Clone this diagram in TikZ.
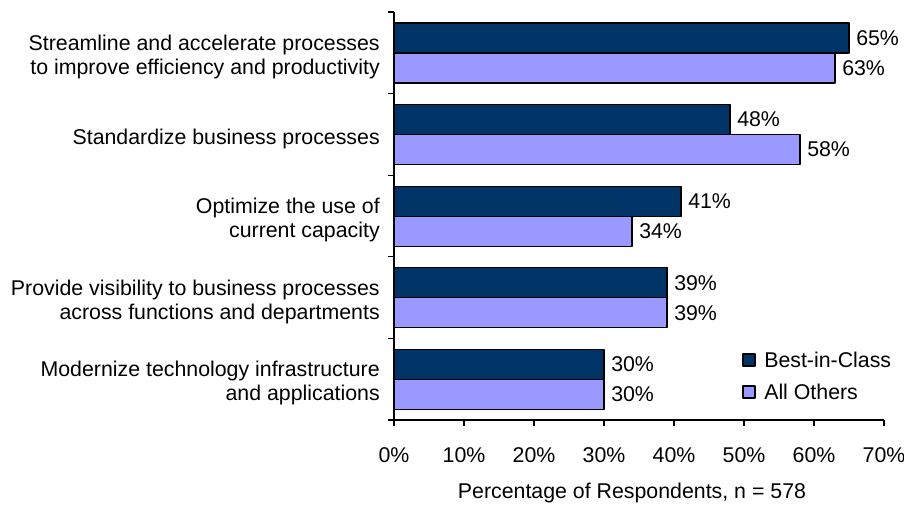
\documentclass[tikz,border=0pt]{standalone}
\usepackage{fontspec}
\setmainfont{Liberation Sans}
\definecolor{bestcol}{HTML}{003366}
\definecolor{othercol}{HTML}{9999FF}
\tikzset{
  bar/.style={draw=black,line width=1pt},
  val/.style={anchor=west,inner sep=0pt},
  key/.style={draw=black,line width=0.8pt,minimum size=9pt,inner sep=0pt}
}
\begin{document}
\begin{tikzpicture}[x=0.75pt,y=-0.75pt,font=\fontsize{16}{18}\selectfont,line join=round]
\def\xo{394}\def\pct{7}\def\cath{81.6}\def\yax{420}
\useasboundingbox (0,0) rectangle (904,504);
% bars and labels
\foreach \i/\b/\o/\lab in {
  0/65/63/{Streamline and accelerate processes\\to improve efficiency and productivity},
  1/48/58/{Standardize business processes},
  2/41/34/{Optimize the use of\\current capacity},
  3/39/39/{Provide visibility to business processes\\across functions and departments},
  4/30/30/{Modernize technology infrastructure\\and applications}}
{
  \pgfmathsetmacro\ytop{12+\cath*\i}
  \draw[bar,fill=bestcol] (\xo,\ytop+11) rectangle (\xo+\b*\pct,\ytop+41);
  \draw[bar,fill=othercol] (\xo,\ytop+41) rectangle (\xo+\o*\pct,\ytop+71);
  \node[val] (bv\i) at (\xo+\b*\pct+7,\ytop+26) {\b\%};
  \node[val] (ov\i) at (\xo+\o*\pct+7,\ytop+56) {\o\%};
  \node[align=right,anchor=east,inner sep=0pt] (lab\i) at (380,\ytop+45) {\lab};
}
% axes
\draw[line width=1pt] (\xo,12) -- (\xo,\yax) -- (\xo+70*\pct,\yax);
\foreach \i in {0,...,5}
  \draw[line width=1pt] (\xo-6,12+\cath*\i) -- (\xo,12+\cath*\i);
\foreach \k in {0,...,7}{
  \pgfmathtruncatemacro\v{\k*10}
  \draw[line width=1pt] (\xo+\v*\pct,\yax) -- (\xo+\v*\pct,\yax+6);
  \node (tick\k) at (\xo+\v*\pct,455) {\v\%};
}
\node (xtitle) at (632,493) {Percentage of Respondents, n = 578};
% legend
\node[key,fill=bestcol] (keybest) at (749,360) {};
\node[anchor=west,inner sep=0pt] (txtbest) at (764,360) {Best-in-Class};
\node[key,fill=othercol] (keyother) at (749,392) {};
\node[anchor=west,inner sep=0pt] (txtother) at (764,392) {All Others};
\end{tikzpicture}
\end{document}
